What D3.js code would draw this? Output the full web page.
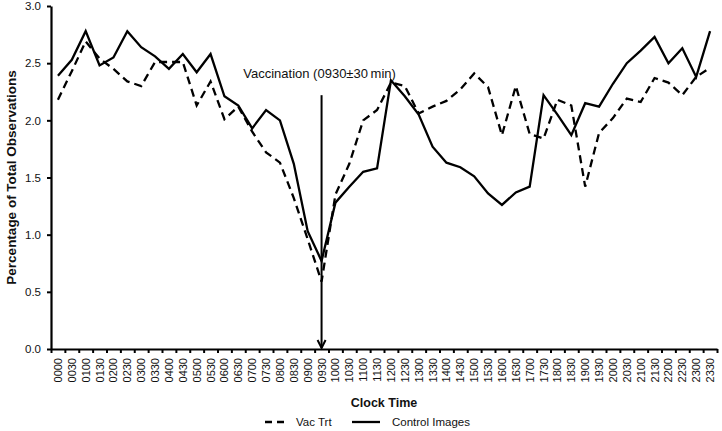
<!DOCTYPE html>
<html>
<head>
<meta charset="utf-8">
<script src="https://cdn.jsdelivr.net/npm/d3@7"></script>
<style>
  body { margin: 0; background: #fff; }
  svg { display: block; font-family: "Liberation Sans", Arial, sans-serif; }
</style>
</head>
<body>
<script>
// clock time categories (x axis)
const times = ["0000", "0030", "0100", "0130", "0200", "0230", "0300", "0330", "0400", "0430",
    "0500", "0530", "0600", "0630", "0700", "0730", "0800", "0830", "0900", "0930",
    "1000", "1030", "1100", "1130", "1200", "1230", "1300", "1330", "1400", "1430",
    "1500", "1530", "1600", "1630", "1700", "1730", "1800", "1830", "1900", "1930",
    "2000", "2030", "2100", "2130", "2200", "2230", "2300", "2330"];

// percentage of total observations
const vacTrt = [2.18, 2.43, 2.69, 2.54, 2.45, 2.34, 2.30, 2.51, 2.51, 2.51,
    2.13, 2.34, 2.01, 2.12, 1.90, 1.72, 1.63, 1.32, 0.96, 0.59,
    1.35, 1.62, 2.00, 2.09, 2.33, 2.30, 2.06, 2.12, 2.17, 2.27,
    2.41, 2.29, 1.87, 2.30, 1.88, 1.84, 2.18, 2.13, 1.42, 1.89,
    2.02, 2.19, 2.16, 2.37, 2.33, 2.22, 2.38, 2.46];

const control = [2.39, 2.53, 2.78, 2.48, 2.55, 2.78, 2.64, 2.56, 2.45, 2.58,
    2.42, 2.58, 2.21, 2.13, 1.93, 2.09, 2.00, 1.62, 1.03, 0.77,
    1.28, 1.42, 1.55, 1.58, 2.35, 2.21, 2.05, 1.77, 1.63, 1.59,
    1.51, 1.36, 1.26, 1.37, 1.42, 2.22, 2.05, 1.87, 2.15, 2.12,
    2.32, 2.50, 2.61, 2.73, 2.50, 2.63, 2.38, 2.78];

const yTicks = [0, 0.5, 1.0, 1.5, 2.0, 2.5, 3.0];

const seriesNames = ["Vac Trt", "Control Images"];
const vaccTime = "0930";
const vaccLabel = "Vaccination (0930\u00b130\u2009min)";

const width = 722;
const height = 431;
const margin = { top: 6, right: 5, bottom: 82, left: 51 };

let svg = d3.select("body")
    .append("svg")
    .attr("width", width)
    .attr("height", height);

let xScale = d3.scaleBand()
    .domain(times)
    .range([margin.left, width - margin.right])
    .padding(0);

// used only for the tick marks between categories
let edgeScale = d3.scaleLinear()
    .domain([0, times.length])
    .range([margin.left, width - margin.right]);

let yScale = d3.scaleLinear()
    .domain([0, 3])
    .range([height - margin.bottom, margin.top]);

let cx = d => xScale(d) + xScale.bandwidth() / 2;

// y axis
let leftAxis = svg.append("g")
    .attr("transform", `translate(${margin.left}, 0)`)
    .call(d3.axisLeft(yScale)
        .tickValues(yTicks)
        .tickFormat(d3.format(".1f"))
        .tickSize(4)
        .tickSizeOuter(0)
        .tickPadding(6));
leftAxis.select(".domain").attr("stroke-width", 2.2).attr("stroke", "#000");
leftAxis.selectAll(".tick line").attr("stroke-width", 2);
leftAxis.selectAll("text").style("font-size", "11.5px").attr("fill", "#111");

// x axis: ticks at category edges
let edgeAxis = svg.append("g")
    .attr("transform", `translate(0, ${yScale(0)})`)
    .call(d3.axisBottom(edgeScale)
        .tickValues(d3.range(times.length + 1))
        .tickFormat("")
        .tickSize(4)
        .tickSizeOuter(0));
edgeAxis.select(".domain").attr("stroke-width", 2.2).attr("stroke", "#000");
edgeAxis.selectAll(".tick line").attr("stroke-width", 2);

// x axis labels
let bottomAxis = svg.append("g")
    .attr("transform", `translate(0, ${yScale(0)})`)
    .call(d3.axisBottom(xScale).tickSize(0).tickSizeOuter(0));
bottomAxis.select(".domain").remove();
bottomAxis.selectAll("text")
    .attr("transform", "rotate(-90)")
    .attr("x", -9)
    .attr("y", 0)
    .attr("dy", "0.36em")
    .style("text-anchor", "end")
    .style("font-size", "11px")
    .attr("fill", "#111");

// lines
let line = d3.line()
    .x((d, i) => cx(times[i]))
    .y(d => yScale(d));

svg.append("path")
    .datum(vacTrt)
    .attr("fill", "none")
    .attr("stroke", "#000")
    .attr("stroke-width", 2.3)
    .attr("stroke-dasharray", "8,5")
    .attr("d", line);

svg.append("path")
    .datum(control)
    .attr("fill", "none")
    .attr("stroke", "#000")
    .attr("stroke-width", 2.3)
    .attr("d", line);

// vaccination arrow
let ax = cx(vaccTime);
svg.append("line")
    .attr("x1", ax).attr("x2", ax)
    .attr("y1", yScale(2.22)).attr("y2", yScale(0) - 1)
    .attr("stroke", "#000")
    .attr("stroke-width", 2);
svg.append("path")
    .attr("d", `M${ax - 4},${yScale(0) - 9} L${ax},${yScale(0) - 1} L${ax + 4},${yScale(0) - 9}`)
    .attr("fill", "none")
    .attr("stroke", "#000")
    .attr("stroke-width", 2);

svg.append("text")
    .attr("x", ax - 2)
    .attr("y", yScale(2.37))
    .attr("text-anchor", "middle")
    .style("font-size", "13px")
    .attr("fill", "#111")
    .text(vaccLabel);

// axis titles
svg.append("text")
    .attr("transform", `translate(11, ${(margin.top + yScale(0)) / 2}) rotate(-90)`)
    .attr("text-anchor", "middle")
    .attr("dy", "0.35em")
    .style("font-size", "13.5px")
    .style("font-weight", "bold")
    .attr("fill", "#111")
    .text("Percentage of Total Observations");

svg.append("text")
    .attr("x", (margin.left + width - margin.right) / 2)
    .attr("y", 407)
    .attr("text-anchor", "middle")
    .style("font-size", "12.5px")
    .style("font-weight", "bold")
    .attr("fill", "#111")
    .text("Clock Time");

// legend
let legend = svg.append("g").attr("transform", "translate(265, 422)");
let items = [
    { name: seriesNames[0], dash: "7,5", x: 0, len: 19 },
    { name: seriesNames[1], dash: null, x: 87, len: 28 }
];
items.forEach(it => {
    legend.append("line")
        .attr("x1", it.x).attr("x2", it.x + it.len)
        .attr("y1", 0).attr("y2", 0)
        .attr("stroke", "#000")
        .attr("stroke-width", 2.3)
        .attr("stroke-dasharray", it.dash);
    legend.append("text")
        .attr("x", it.x + it.len + 12)
        .attr("y", 0)
        .attr("dy", "0.35em")
        .style("font-size", "11.5px")
        .attr("fill", "#111")
        .text(it.name);
});
</script>
</body>
</html>
